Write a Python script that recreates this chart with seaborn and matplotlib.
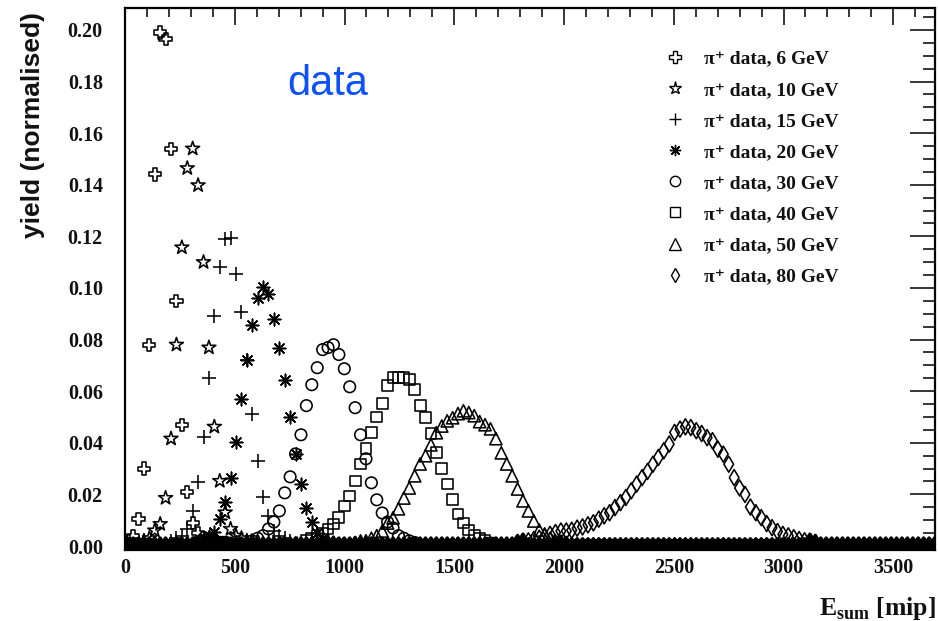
import numpy as np
import pandas as pd
import matplotlib
matplotlib.use("Agg")
import matplotlib.pyplot as plt
from matplotlib.lines import Line2D
from matplotlib.ticker import MultipleLocator, FormatStrFormatter
import seaborn as sns

# ---------------- data ----------------
# histogram binning: 150 bins over 0 - 3700 mip
N_BINS = 150
E_MAX = 3700.0

series_labels = ["π⁺ data, 6 GeV", "π⁺ data, 10 GeV", "π⁺ data, 15 GeV",
                 "π⁺ data, 20 GeV", "π⁺ data, 30 GeV", "π⁺ data, 40 GeV",
                 "π⁺ data, 50 GeV", "π⁺ data, 80 GeV"]

# first filled bin index and the bin contents from there on; all other bins read as 0
first_6 = 0
yield_6 = [0.002, 0.004, 0.0105, 0.030, 0.078, 0.144, 0.199, 0.1965, 0.154, 0.095,
           0.047, 0.021, 0.009, 0.005, 0.003, 0.002, 0.0015, 0.001, 0.001, 0.0005]

first_10 = 3
yield_10 = [0.002, 0.003, 0.006, 0.0085, 0.0186, 0.0416, 0.078, 0.1157, 0.1464, 0.154,
            0.1398, 0.110, 0.0769, 0.0462, 0.0252, 0.013, 0.0066, 0.004, 0.003, 0.002,
            0.0015, 0.001]

first_15 = 8
yield_15 = [0.002, 0.003, 0.004, 0.0066, 0.0136, 0.0249, 0.0423, 0.065, 0.089, 0.1083,
            0.1188, 0.1192, 0.1056, 0.0905, 0.072, 0.0512, 0.033, 0.019, 0.0117, 0.006,
            0.004, 0.003, 0.002, 0.001]

first_20 = 13
yield_20 = [0.002, 0.003, 0.004, 0.0054, 0.0105, 0.0171, 0.0264, 0.0404, 0.0571, 0.0722,
            0.0858, 0.0963, 0.1002, 0.0975, 0.088, 0.0769, 0.0645, 0.050, 0.0357, 0.024,
            0.0148, 0.0093, 0.005, 0.003, 0.002, 0.001]

first_30 = 23
yield_30 = [0.002, 0.003, 0.004, 0.0066, 0.0093, 0.0136, 0.0206, 0.0268, 0.0357, 0.0431,
            0.0544, 0.0625, 0.0691, 0.0761, 0.0769, 0.078, 0.0742, 0.0687, 0.0617, 0.0536,
            0.0431, 0.0338, 0.0245, 0.0179, 0.0128, 0.0093, 0.007, 0.004, 0.003, 0.002,
            0.001]

first_40 = 33
yield_40 = [0.002, 0.003, 0.004, 0.005, 0.0066, 0.0085, 0.0109, 0.0155, 0.0194, 0.0252,
            0.0318, 0.0377, 0.0439, 0.050, 0.0551, 0.0621, 0.0652, 0.0652, 0.0652, 0.0645,
            0.0606, 0.0544, 0.0497, 0.0435, 0.0361, 0.030, 0.024, 0.0179, 0.0124, 0.0089,
            0.0062, 0.004, 0.003, 0.002, 0.001]

first_50 = 42
yield_50 = [0.001, 0.002, 0.002, 0.003, 0.004, 0.0058, 0.0089, 0.0109, 0.0144, 0.0186,
            0.0225, 0.0272, 0.0318, 0.035, 0.0392, 0.0439, 0.0465, 0.0485, 0.0497, 0.0513,
            0.0524, 0.0517, 0.0505, 0.0482, 0.047, 0.0454, 0.0416, 0.0361, 0.0318, 0.0272,
            0.0221, 0.0175, 0.0136, 0.0097, 0.0062, 0.0047, 0.003, 0.002, 0.0015, 0.001]

first_80 = 72
yield_80 = [0.001, 0.0015, 0.002, 0.0025, 0.003, 0.0035, 0.0045, 0.0052, 0.0058, 0.0058,
            0.0061, 0.0069, 0.0074, 0.0082, 0.009, 0.0104, 0.0117, 0.0129, 0.0149, 0.0168,
            0.0188, 0.0214, 0.024, 0.0265, 0.0289, 0.0317, 0.0343, 0.0369, 0.0395, 0.044,
            0.0453, 0.0462, 0.0459, 0.0447, 0.0436, 0.042, 0.0408, 0.0375, 0.0356, 0.0317,
            0.0265, 0.0225, 0.020, 0.0151, 0.0129, 0.011, 0.0087, 0.0071, 0.0056, 0.0045,
            0.0039, 0.0032, 0.0025, 0.002, 0.0015, 0.001]

x_ticks = [0, 500, 1000, 1500, 2000, 2500, 3000, 3500]
y_ticks = [0.00, 0.02, 0.04, 0.06, 0.08, 0.10, 0.12, 0.14, 0.16, 0.18, 0.20]

# ---------------- assemble ----------------
bin_width = E_MAX / N_BINS
e_centers = (np.arange(N_BINS) + 0.5) * bin_width

def full_hist(first, vals):
    h = np.zeros(N_BINS)
    h[first:first + len(vals)] = vals
    return h

hists = [full_hist(first_6, yield_6), full_hist(first_10, yield_10),
         full_hist(first_15, yield_15), full_hist(first_20, yield_20),
         full_hist(first_30, yield_30), full_hist(first_40, yield_40),
         full_hist(first_50, yield_50), full_hist(first_80, yield_80)]

df = pd.concat([pd.DataFrame({"E": e_centers, "yield": h, "series": lab})
                for lab, h in zip(series_labels, hists)], ignore_index=True)

# marker styles (ROOT-like)
styles = {
    series_labels[0]: dict(marker="P", ms=8.8, filled=True),
    series_labels[1]: dict(marker="*", ms=10.5, filled=True),
    series_labels[2]: dict(marker="+", ms=9.5, filled=False),
    series_labels[3]: dict(marker=(8, 2, 0), ms=9.0, filled=False),
    series_labels[4]: dict(marker="o", ms=8.3, filled=True),
    series_labels[5]: dict(marker="s", ms=7.8, filled=True),
    series_labels[6]: dict(marker="^", ms=8.8, filled=True),
    series_labels[7]: dict(marker="d", ms=8.2, filled=True),
}
LW = 1.15        # marker outline width
LW_BASE = 2.4    # heavier outline for the crowded (near-empty) bins along y = 0

# ---------------- plot ----------------
sns.set_theme(style="white")
plt.rcParams["font.family"] = ["Liberation Serif", "DejaVu Serif"]
plt.rcParams["mathtext.fontset"] = "custom"
plt.rcParams["mathtext.rm"] = "Liberation Serif"
plt.rcParams["mathtext.bf"] = "Liberation Serif:bold"

fig = plt.figure(figsize=(9.38, 6.21), dpi=100)
ax = fig.add_axes([125 / 938, 1 - 550 / 621, 810 / 938, 542 / 621])

def draw(sub, st, lw):
    if len(sub) == 0:
        return
    if st["filled"]:
        sns.scatterplot(data=sub, x="E", y="yield", ax=ax, marker=st["marker"],
                        s=st["ms"] ** 2, facecolor="none", edgecolor="black",
                        linewidth=lw, legend=False)
    else:
        sns.scatterplot(data=sub, x="E", y="yield", ax=ax, marker=st["marker"],
                        s=st["ms"] ** 2, color="black", linewidth=lw, legend=False)

for lab in series_labels:
    st = styles[lab]
    sub = df[df["series"] == lab]
    draw(sub[sub["yield"] <= 0.0015], st, LW_BASE)
    draw(sub[sub["yield"] > 0.0015], st, LW)

ax.set_xlim(0, 3690)
ax.set_ylim(-0.00155, 0.2085)
ax.set_xlabel("")
ax.set_ylabel("")

ax.xaxis.set_minor_locator(MultipleLocator(100))
ax.yaxis.set_minor_locator(MultipleLocator(0.005))
ax.set_xticks(x_ticks)
ax.set_yticks(y_ticks)
ax.yaxis.set_major_formatter(FormatStrFormatter("%.2f"))
ax.set_xticklabels([str(v) for v in x_ticks])

tick_font = dict(family=["Liberation Serif", "DejaVu Serif"], weight="bold", size=14.5)
for lbl in ax.get_xticklabels() + ax.get_yticklabels():
    lbl.set_fontproperties(matplotlib.font_manager.FontProperties(**tick_font))
    lbl.set_color("#111111")

ax.tick_params(axis="both", which="both", direction="in", top=True, right=True,
               color="black", width=1.1)
ax.tick_params(axis="y", which="major", length=18, pad=16)
ax.tick_params(axis="y", which="minor", length=9)
ax.tick_params(axis="x", which="major", length=12.5, pad=6)
ax.tick_params(axis="x", which="minor", length=6.5)
for sp in ax.spines.values():
    sp.set_linewidth(1.6)
    sp.set_color("black")

# legend
handles = []
for lab in series_labels:
    st = styles[lab]
    if st["filled"]:
        h = Line2D([], [], linestyle="none", marker=st["marker"], markersize=st["ms"] * 0.9,
                   markerfacecolor="none", markeredgecolor="black", markeredgewidth=1.0)
    else:
        h = Line2D([], [], linestyle="none", marker=st["marker"], markersize=st["ms"] * 0.9,
                   color="black", markeredgewidth=1.0)
    handles.append(h)
leg = ax.legend(handles, series_labels, loc="upper left",
                bbox_to_anchor=((663 - 125) / 810, (550 - 50) / 542),
                frameon=False, borderpad=0, borderaxespad=0, handlelength=1.2,
                handletextpad=0.9, labelspacing=0.695,
                prop=dict(family=["Liberation Serif", "DejaVu Serif"], weight="bold", size=14))
for t in leg.get_texts():
    t.set_color("#111111")

# "data" annotation
ax.text((287 - 125) / 810, (550 - 95) / 542, "data", transform=ax.transAxes,
        fontsize=30, color="#0d52f5", family=["Liberation Sans", "DejaVu Sans"],
        ha="left", va="baseline")

# axis titles
fig.text(936 / 938, 1 - 615 / 621, r"$\mathbf{E}_{\mathbf{sum}}$ [mip]",
         ha="right", va="baseline", fontsize=18.5, fontweight="bold",
         family=["Liberation Serif", "DejaVu Serif"], color="#111111")
fig.text(33 / 938, 1 - 12 / 621, "yield (normalised)", rotation=90,
         ha="center", va="top", fontsize=19, fontweight="bold",
         family=["Liberation Sans", "DejaVu Sans"], color="#111111")

fig.savefig("out.png", dpi=100)
